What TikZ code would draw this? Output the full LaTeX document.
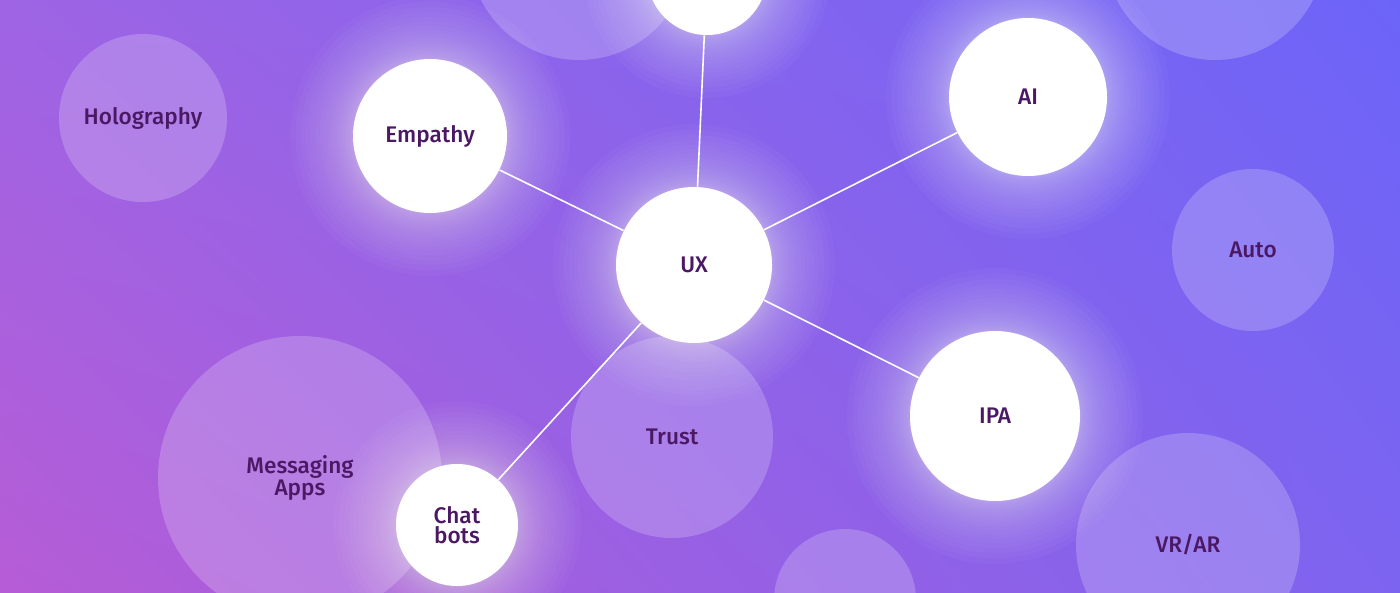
\documentclass[tikz,border=0pt]{standalone}
\usepackage{fontspec}
\setmainfont{Fira Sans}
\newfontfamily\labelfont{Fira Sans Medium}
\usetikzlibrary{backgrounds, shadings}
\definecolor{ink}{RGB}{75,25,100}
\definecolor{bgtl}{RGB}{158,100,228}
\definecolor{bgtr}{RGB}{108,100,248}
\definecolor{bgbl}{RGB}{182,92,214}
\definecolor{bgbr}{RGB}{125,100,240}
\pgfdeclarelayer{glow}
\pgfsetlayers{background,glow,main}
\tikzstyle{topic}=[circle, fill=white, fill opacity=0.2, text opacity=1, text=ink, inner sep=0pt, align=center, font=\labelfont\fontsize{11.3}{10}\selectfont]
\tikzstyle{hub}=[circle, fill=white, text=ink, inner sep=0pt, align=center, font=\labelfont\fontsize{11.3}{10}\selectfont]
\tikzstyle{link}=[draw=white, line width=0.8pt]

\begin{document}
\begin{tikzpicture}[x=0.5pt, y=-0.5pt]
                \useasboundingbox (0,0) rectangle (1400,593);
                \clip (0,0) rectangle (1400,593);
                \begin{pgfonlayer}{background}
                \shade[upper left=bgtl, upper right=bgtr, lower left=bgbl, lower right=bgbr] (0,0) rectangle (1400,593);
                \end{pgfonlayer}
                \node[topic, minimum size=84pt] (holo) at (143, 118) {Holography};
                \node[topic, minimum size=110pt] (tl) at (579, -50) {};
                \node[topic, minimum size=110pt] (tr) at (1215, -50) {};
                \node[topic, minimum size=81pt] (auto) at (1253, 250) {Auto};
                \node[topic, minimum size=142pt] (msg) at (300, 478) {Messaging\\Apps};
                \node[topic, minimum size=101pt] (trust) at (672, 437) {Trust};
                \node[topic, minimum size=112pt] (vrar) at (1188, 545) {VR/AR};
                \node[topic, minimum size=71pt] (bot) at (845, 600) {};
                \node[hub, minimum size=78pt] (ux) at (694, 265) {UX};
                \node[hub, minimum size=60pt] (top) at (707, -25) {};
                \node[hub, minimum size=79pt] (ai) at (1028, 97) {AI};
                \node[hub, minimum size=77pt] (emp) at (430, 136) {Empathy};
                \node[hub, minimum size=85pt] (ipa) at (995, 416) {IPA};
                \node[hub, minimum size=61pt] (chat) at (457, 525) {Chat\\bots};
                \draw[link] (ux)--(top);
                \draw[link] (ux)--(ai);
                \draw[link] (ux)--(emp);
                \draw[link] (ux)--(ipa);
                \draw[link] (ux)--(chat);
                \begin{pgfonlayer}{glow}
                \foreach \n/\r in {ux/78, top/60, ai/79, emp/77, ipa/85, chat/61}
                    \foreach \k in {1,...,22}
                        \fill[white, opacity=0.028] (\n.center) circle ({(\r+0.13*\k*\k)*0.5pt});
                \end{pgfonlayer}
            \end{tikzpicture}
\end{document}
